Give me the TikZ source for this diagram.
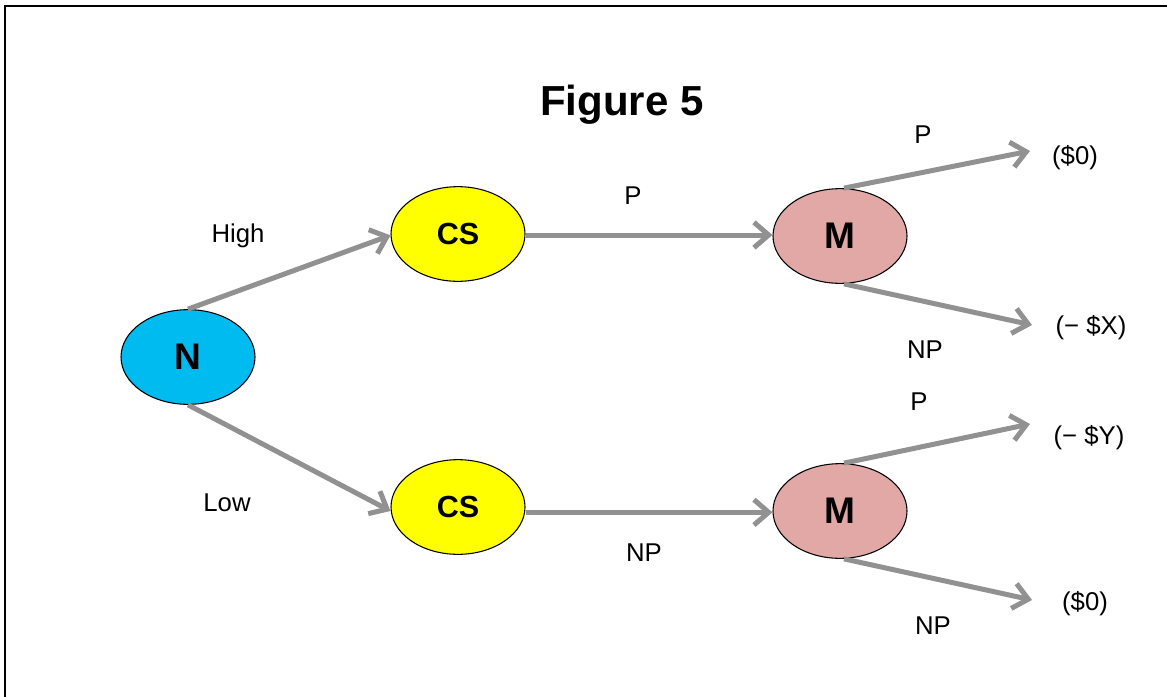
\documentclass[tikz,border=0pt]{standalone}
\usepackage{fontspec}
\setmainfont{Liberation Sans}
\usetikzlibrary{shapes.geometric,arrows.meta}
\definecolor{arrowgray}{RGB}{145,145,145}
\definecolor{nblue}{RGB}{0,187,240}
\definecolor{mpink}{RGB}{225,168,166}
\definecolor{csyellow}{RGB}{255,255,0}
\tikzset{
  chance/.style={ellipse, draw=black, line width=0.8pt, minimum width=100.5pt, minimum height=71pt, inner sep=0pt},
  conn/.style={draw=arrowgray, line width=3.75pt, -{Straight Barb[length=11pt,width=19pt]}},
  lbl/.style={font=\fontsize{19.3}{22}\selectfont, inner sep=0pt},
}
\begin{document}
\begin{tikzpicture}[x=0.75pt,y=-0.75pt]
\useasboundingbox (0,0) rectangle (1167,696);
\begin{scope}
\clip (0,0) rectangle (1167,696);
\draw[line width=1.6pt] (5,6) rectangle (1200,720);
\end{scope}
\node[inner sep=0pt, font=\fontsize{31.5}{36}\selectfont\bfseries] (title) at (622,105) {Figure 5};
\node[chance, fill=nblue, font=\fontsize{27.8}{30}\selectfont\bfseries] (n) at (188,357) {N};
\node[chance, fill=csyellow, font=\fontsize{22.9}{26}\selectfont\bfseries] (cs1) at (458,234) {CS};
\node[chance, fill=csyellow, font=\fontsize{22.9}{26}\selectfont\bfseries] (cs2) at (458,507) {CS};
\node[chance, fill=mpink, font=\fontsize{27.8}{30}\selectfont\bfseries] (m1) at (840,236) {M};
\node[chance, fill=mpink, font=\fontsize{27.8}{30}\selectfont\bfseries] (m2) at (840,511) {M};
\coordinate (e1) at (1030,151);
\coordinate (e2) at (1032,325);
\coordinate (e3) at (1030,424);
\coordinate (e4) at (1032,600);
\coordinate (h1) at ([yshift=-0.75pt]cs1.east);
\coordinate (h2) at ([yshift=-4pt]cs2.east);
\draw[conn] (n.north) -- ([yshift=-1]cs1.west);
\draw[conn] (n.south) -- ([yshift=-3]cs2.west);
\draw[conn] (h1) -- (h1 -| m1.west);
\draw[conn] (h2) -- (h2 -| m2.west);
\draw[conn] ([xshift=3]m1.north) -- (e1);
\draw[conn] ([xshift=3]m1.south) -- (e2);
\draw[conn] ([xshift=3]m2.north) -- (e3);
\draw[conn] ([xshift=3]m2.south) -- (e4);
\node[lbl] (lhigh) at (238,236) {High};
\node[lbl] (llow) at (227,503) {Low};
\node[lbl] (lp1) at (633,196) {P};
\node[lbl] (lnp1) at (644,553) {NP};
\node[lbl] (lp2) at (923,135) {P};
\node[lbl] (lnp2) at (925,350) {NP};
\node[lbl] (lp3) at (919,402) {P};
\node[lbl] (lnp3) at (933,626) {NP};
\node[lbl] (o1) at (1075,158) {(\$0)};
\node[lbl] (o2) at (1091,328) {(− \$X)};
\node[lbl] (o3) at (1089,438) {(− \$Y)};
\node[lbl] (o4) at (1085,604) {(\$0)};
\end{tikzpicture}
\end{document}
